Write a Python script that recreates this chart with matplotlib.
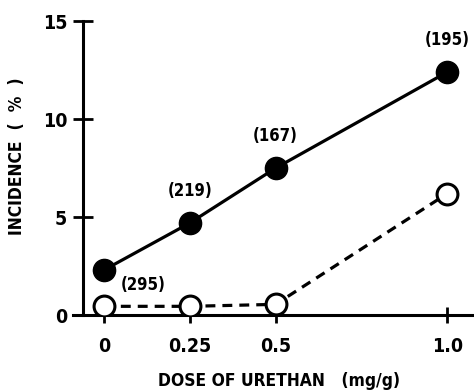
import matplotlib
matplotlib.use("Agg")
import matplotlib.pyplot as plt

dose = [0, 0.25, 0.5, 1.0]
dose_labels = ["0", "0.25", "0.5", "1.0"]
incidence_filled = [2.3, 4.7, 7.5, 12.4]
incidence_open = [0.45, 0.45, 0.55, 6.2]
counts = ["(295)", "(219)", "(167)", "(195)"]
yticks = [0, 5, 10, 15]

plt.rcParams['font.family'] = ['DejaVu Sans']
plt.rcParams['font.stretch'] = 'condensed'
plt.rcParams['font.weight'] = 'bold'

fig = plt.figure(figsize=(4.74, 3.91), dpi=100)
ax = fig.add_axes([0.154, 0.194, 0.846, 0.752])
ax.set_xlim(-0.09, 1.078)
ax.set_ylim(0, 15)

ax.plot(dose, incidence_filled, '-', color='black', lw=2.3, marker='o',
        markersize=16, markerfacecolor='black', markeredgecolor='black', zorder=3)
ax.plot(dose, incidence_open, '--', color='black', lw=2.3, dashes=(3.1, 2.2),
        marker='o', markersize=15, markerfacecolor='white', markeredgecolor='black',
        markeredgewidth=2.2, zorder=4)

# count labels
ax.annotate(counts[0], (dose[0], incidence_open[0]), xytext=(28, 15),
            textcoords='offset points', ha='center', va='center', fontsize=12, fontweight='bold')
for i in range(1, 4):
    ax.annotate(counts[i], (dose[i], incidence_filled[i]), xytext=(0, 23),
                textcoords='offset points', ha='center', va='center', fontsize=12, fontweight='bold')

for s in ['top', 'right']:
    ax.spines[s].set_visible(False)
ax.spines['left'].set_position(('data', -0.062))
ax.spines['left'].set_linewidth(2.2)
ax.spines['bottom'].set_linewidth(2.2)

ax.set_xticks(dose)
ax.set_xticklabels(dose_labels)
ax.set_yticks(yticks)
ax.tick_params(axis='y', direction='inout', length=14, width=2, labelsize=14, pad=4)
ax.tick_params(axis='x', direction='inout', length=12, width=2, labelsize=14, pad=10)
for lab in ax.get_xticklabels() + ax.get_yticklabels():
    lab.set_fontweight('bold')

ax.set_xlabel("DOSE OF URETHAN   (mg/g)", fontsize=12.5, fontweight='bold')
ax.xaxis.set_label_coords(0.514, -0.194)
ax.set_ylabel("INCIDENCE  (  %  )", fontsize=12.5, fontweight='bold')
ax.yaxis.set_label_coords(-0.118, 0.54)

fig.savefig("out.png", dpi=100)
